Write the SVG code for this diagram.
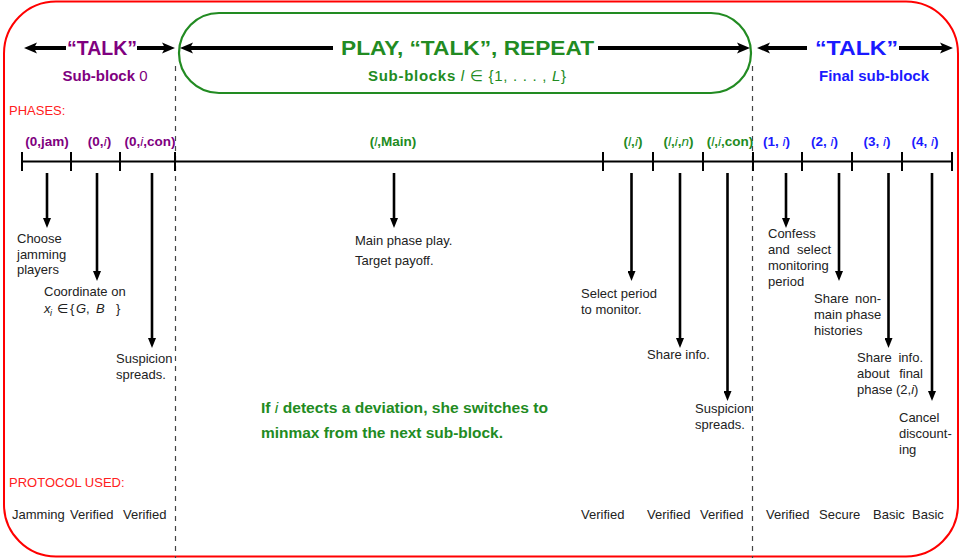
<svg xmlns="http://www.w3.org/2000/svg" width="961" height="558" viewBox="0 0 961 558">
<style>
text{font-family:"Liberation Sans","DejaVu Sans",sans-serif;}
.lbl{font-size:13px;fill:#222;}
.ph{font-size:13.5px;font-weight:bold;text-anchor:middle;}
.pu{fill:#800080;}
.gr{fill:#228b22;}
.bl{fill:#1a1aff;}
.rd{fill:#ff2020;font-size:13px;}
.it{font-style:italic;font-weight:normal;}
.top{stroke:#000;stroke-width:4;fill:none;}
.dn{stroke:#000;stroke-width:2.6;fill:none;marker-end:url(#ad);}
.dash{stroke:#444;stroke-width:1.2;stroke-dasharray:5,5;}
.tick{stroke:#000;stroke-width:2;}
</style>
<defs>
<marker id="at" markerUnits="userSpaceOnUse" viewBox="0 0 14 12" markerWidth="14" markerHeight="12" refX="5" refY="6" orient="auto">
<path d="M0,0.5 L13,6 L0,11.5 L3,6 z" fill="#000"/>
</marker>
<marker id="ad" markerUnits="userSpaceOnUse" viewBox="0 0 10 8" markerWidth="10" markerHeight="8" refX="4" refY="4" orient="auto">
<path d="M0,0 L10,4 L0,8 z" fill="#000"/>
</marker>
</defs>
<rect id="frame" x="4" y="1.5" width="954" height="555" rx="52" ry="52" fill="none" stroke="#f00" stroke-width="2"/>
<rect id="play-block" x="179" y="13" width="572" height="80" rx="40" ry="40" fill="none" stroke="#228b22" stroke-width="2.2"/>
<g id="dividers">
<line class="dash" x1="175.5" y1="66" x2="175.5" y2="558"/>
<line class="dash" x1="752.5" y1="66" x2="752.5" y2="558"/>
</g>
<g id="connectors">
<line class="top" x1="66" y1="48" x2="32" y2="48" marker-end="url(#at)"/>
<line class="top" x1="137" y1="48" x2="167" y2="48" marker-end="url(#at)"/>
<line class="top" x1="333" y1="48" x2="188" y2="48" marker-end="url(#at)"/>
<line class="top" x1="598" y1="48" x2="742" y2="48" marker-end="url(#at)"/>
<line class="top" x1="807" y1="48" x2="765" y2="48" marker-end="url(#at)"/>
<line class="top" x1="899" y1="48" x2="945" y2="48" marker-end="url(#at)"/>
<line class="dn" x1="47" y1="173" x2="47" y2="222"/>
<line class="dn" x1="97" y1="173" x2="97" y2="275"/>
<line class="dn" x1="152" y1="173" x2="152" y2="342"/>
<line class="dn" x1="394" y1="173" x2="394" y2="222"/>
<line class="dn" x1="631.5" y1="173" x2="631.5" y2="275"/>
<line class="dn" x1="680" y1="173" x2="680" y2="342"/>
<line class="dn" x1="727.5" y1="173" x2="727.5" y2="395"/>
<line class="dn" x1="786" y1="173" x2="786" y2="222"/>
<line class="dn" x1="839" y1="173" x2="839" y2="275"/>
<line class="dn" x1="888.5" y1="173" x2="888.5" y2="342"/>
<line class="dn" x1="932" y1="173" x2="932" y2="395"/>
</g>
<g id="timeline">
<line x1="22" y1="161.5" x2="952" y2="161.5" stroke="#000" stroke-width="2.2"/>
<g class="tick">
<line x1="22" y1="152" x2="22" y2="171"/><line x1="71" y1="152" x2="71" y2="171"/><line x1="120" y1="152" x2="120" y2="171"/><line x1="175" y1="152" x2="175" y2="171"/>
<line x1="603" y1="152" x2="603" y2="171"/><line x1="653" y1="152" x2="653" y2="171"/><line x1="703" y1="152" x2="703" y2="171"/><line x1="753" y1="152" x2="753" y2="171"/>
<line x1="802" y1="152" x2="802" y2="171"/><line x1="852" y1="152" x2="852" y2="171"/><line x1="902" y1="152" x2="902" y2="171"/><line x1="952" y1="152" x2="952" y2="171"/>
</g>
</g>
<g id="talk-0">
<text x="102" y="55" class="pu" font-size="20" font-weight="bold" text-anchor="middle" textLength="70" lengthAdjust="spacingAndGlyphs">“TALK”</text>
<text x="105" y="81" class="pu" font-size="15" font-weight="bold" text-anchor="middle">Sub-block <tspan font-weight="normal">0</tspan></text>
</g>
<g id="play-talk-repeat">
<text x="467.5" y="55" class="gr" font-size="20" font-weight="bold" text-anchor="middle" textLength="253" lengthAdjust="spacingAndGlyphs">PLAY, “TALK”, REPEAT</text>
<text x="467" y="81" class="gr" font-size="15" font-weight="bold" text-anchor="middle" textLength="198" lengthAdjust="spacing">Sub-blocks <tspan class="it">l</tspan><tspan font-weight="normal"> ∈ {1, . . . , </tspan><tspan class="it">L</tspan><tspan font-weight="normal">}</tspan></text>
</g>
<g id="talk-final">
<text x="856.5" y="55" class="bl" font-size="20" font-weight="bold" text-anchor="middle" textLength="83" lengthAdjust="spacingAndGlyphs">“TALK”</text>
<text x="874" y="81" class="bl" font-size="15" font-weight="bold" text-anchor="middle">Final sub-block</text>
</g>
<text id="phases-title" x="9" y="115" class="rd">PHASES:</text>
<text id="protocol-title" x="9" y="487" class="rd">PROTOCOL USED:</text>
<g id="phase-labels">
<text x="47" y="146" class="ph pu">(0,jam)</text>
<text x="99.5" y="146" class="ph pu">(0,<tspan class="it">i</tspan>)</text>
<text x="150" y="146" class="ph pu">(0,<tspan class="it">i</tspan>,con)</text>
<text x="393" y="146" class="ph gr">(<tspan class="it">l</tspan>,Main)</text>
<text x="633" y="146" class="ph gr">(<tspan class="it">l</tspan>,<tspan class="it">i</tspan>)</text>
<text x="678.5" y="146" class="ph gr">(<tspan class="it">l</tspan>,<tspan class="it">i</tspan>,<tspan class="it">n</tspan>)</text>
<text x="730" y="146" class="ph gr">(<tspan class="it">l</tspan>,<tspan class="it">i</tspan>,con)</text>
<text x="776.5" y="146" class="ph bl">(1, <tspan class="it">i</tspan>)</text>
<text x="824.5" y="146" class="ph bl">(2, <tspan class="it">i</tspan>)</text>
<text x="877" y="146" class="ph bl">(3, <tspan class="it">i</tspan>)</text>
<text x="925" y="146" class="ph bl">(4, <tspan class="it">i</tspan>)</text>
</g>
<g id="desc-0-jam"><text x="17" y="243" class="lbl">Choose</text><text x="17" y="258.5" class="lbl">jamming</text><text x="17" y="274" class="lbl">players</text></g>
<g id="desc-0-i"><text x="44" y="296" class="lbl">Coordinate on</text><text y="313" class="lbl" font-size="14"><tspan x="44" font-style="italic">x</tspan><tspan x="50" dy="3" font-style="italic" font-size="9">i</tspan><tspan x="57" dy="-3">∈</tspan><tspan x="70">{</tspan><tspan x="76" font-style="italic">G</tspan><tspan x="86">,</tspan><tspan x="96" font-style="italic">B</tspan><tspan x="116">}</tspan></text></g>
<g id="desc-0-con"><text x="116" y="363" class="lbl">Suspicion</text><text x="116" y="378.5" class="lbl">spreads.</text></g>
<g id="desc-main"><text x="355" y="245" class="lbl">Main phase play.</text><text x="355" y="265" class="lbl">Target payoff.</text></g>
<g id="desc-l-i"><text x="581" y="298" class="lbl">Select period</text><text x="581" y="314" class="lbl">to monitor.</text></g>
<g id="desc-l-i-n"><text x="647" y="359" class="lbl">Share info.</text></g>
<g id="desc-l-con"><text x="695" y="413" class="lbl">Suspicion</text><text x="695" y="429" class="lbl">spreads.</text></g>
<g id="desc-1-i"><text x="768" y="238" class="lbl">Confess</text><text x="768" y="254" class="lbl">and</text><text x="831" y="254" class="lbl" text-anchor="end">select</text><text x="768" y="270" class="lbl">monitoring</text><text x="768" y="286" class="lbl">period</text></g>
<g id="desc-2-i"><text x="814" y="303" class="lbl">Share</text><text x="881" y="303" class="lbl" text-anchor="end">non-</text><text x="814" y="319" class="lbl">main phase</text><text x="814" y="335" class="lbl">histories</text></g>
<g id="desc-3-i"><text x="857" y="362" class="lbl">Share</text><text x="923" y="362" class="lbl" text-anchor="end">info.</text><text x="857" y="378" class="lbl">about</text><text x="923" y="378" class="lbl" text-anchor="end">final</text><text x="857" y="394" class="lbl">phase (2,<tspan font-style="italic">i</tspan>)</text></g>
<g id="desc-4-i"><text x="899" y="422" class="lbl">Cancel</text><text x="899" y="438" class="lbl">discount-</text><text x="899" y="454" class="lbl">ing</text></g>
<g id="deviation-note">
<text x="261" y="413" class="gr" font-size="14" font-weight="bold" textLength="287" lengthAdjust="spacingAndGlyphs">If <tspan class="it">i</tspan> detects a deviation, she switches to</text>
<text x="261" y="438" class="gr" font-size="14" font-weight="bold" textLength="242" lengthAdjust="spacingAndGlyphs">minmax from the next sub-block.</text>
</g>
<g id="protocols">
<text x="12" y="519" class="lbl">Jamming</text>
<text x="70" y="519" class="lbl">Verified</text>
<text x="123" y="519" class="lbl">Verified</text>
<text x="581" y="519" class="lbl">Verified</text>
<text x="647" y="519" class="lbl">Verified</text>
<text x="700" y="519" class="lbl">Verified</text>
<text x="766" y="519" class="lbl">Verified</text>
<text x="819" y="519" class="lbl">Secure</text>
<text x="873" y="519" class="lbl">Basic</text>
<text x="912" y="519" class="lbl">Basic</text>
</g>
</svg>
